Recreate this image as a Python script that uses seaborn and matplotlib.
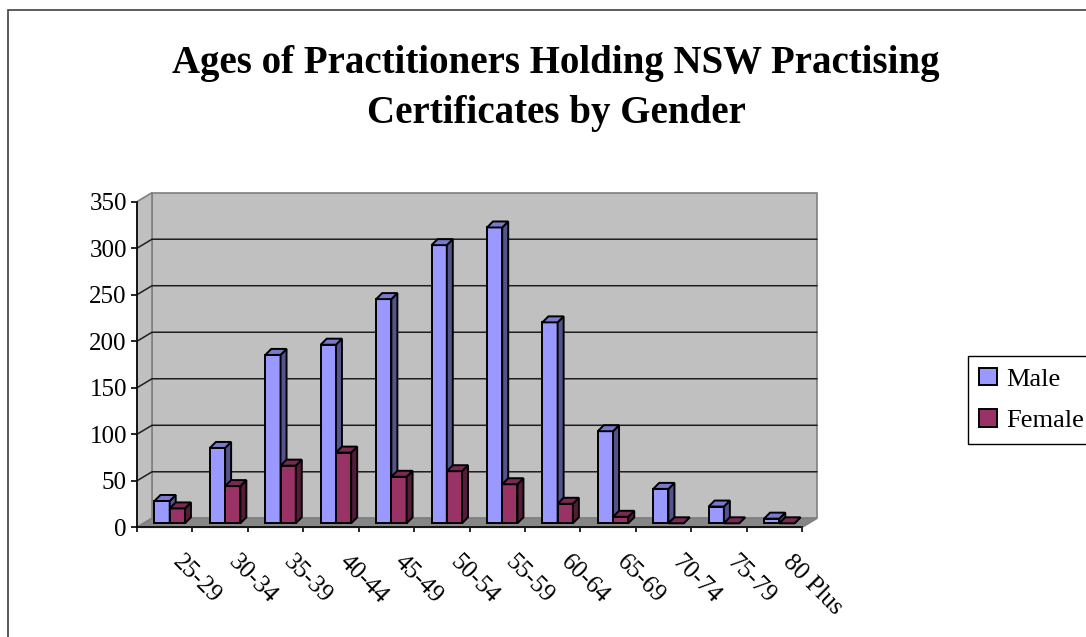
import numpy as np
import pandas as pd
import seaborn as sns
import matplotlib.pyplot as plt
import matplotlib.transforms as mtransforms
from matplotlib.patches import Polygon, Rectangle, Patch
from matplotlib.lines import Line2D

# data
age_groups = ["25-29", "30-34", "35-39", "40-44", "45-49", "50-54",
              "55-59", "60-64", "65-69", "70-74", "75-79", "80 Plus"]
male_counts = [24, 81, 181, 192, 241, 299, 318, 216, 99, 37, 18, 5]
female_counts = [16, 40, 62, 76, 50, 56, 42, 21, 7, 0, 0, 0]
genders = ["Male", "Female"]
y_ticks = [0, 50, 100, 150, 200, 250, 300, 350]
title = "Ages of Practitioners Holding NSW Practising\nCertificates by Gender"

MALE_COLOR = "#9999ff"
FEMALE_COLOR = "#993366"
WALL_COLOR = "#c0c0c0"
FLOOR_COLOR = "#868686"

# pixel offsets for the fake 3D look
WALL_DX, WALL_DY = 15, 9
BAR_DX, BAR_DY = 6, 6
BAR_SHIFT_X, BAR_SHIFT_Y = 5, 4

sns.set_style("white")
plt.rcParams["font.family"] = ["Liberation Serif", "DejaVu Serif"]
plt.rcParams["text.color"] = "black"
plt.rcParams["xtick.color"] = "black"
plt.rcParams["ytick.color"] = "black"

DPI = 100
W, H = 1086, 637
fig = plt.figure(figsize=(W / DPI, H / DPI), dpi=DPI)
ax = fig.add_axes([137 / W, 1 - 527.3 / H, (802 - 137) / W, (527.3 - 201.7) / H])
ax.patch.set_visible(False)

df = pd.DataFrame({
    "age": age_groups * 2,
    "gender": ["Male"] * len(male_counts) + ["Female"] * len(female_counts),
    "count": male_counts + female_counts,
})

sns.barplot(data=df, x="age", y="count", hue="gender", order=age_groups,
            hue_order=genders, palette=[MALE_COLOR, FEMALE_COLOR],
            width=0.55, saturation=1, errorbar=None, edgecolor="black",
            linewidth=1.4, legend=False, ax=ax)

ax.set_xlim(-0.5, len(age_groups) - 0.5)
ax.set_ylim(0, 350)
ax.set_xlabel("")
ax.set_ylabel("")

# axes styling
for side in ["top", "right"]:
    ax.spines[side].set_visible(False)
for side in ["left", "bottom"]:
    ax.spines[side].set_color("black")
    ax.spines[side].set_linewidth(1.2)
    ax.spines[side].set_zorder(2.5)

ax.set_yticks(y_ticks)
ax.tick_params(axis="y", left=True, length=4.3, width=1.2, pad=3,
               labelsize=18, direction="out")
ax.set_xticks(range(len(age_groups)))
ax.set_xticklabels(age_groups, rotation=-45, ha="left", va="top")
ax.tick_params(axis="x", which="major", length=0, pad=17, labelsize=18)
ax.set_xticks(np.arange(-0.5, len(age_groups), 1), minor=True)
ax.tick_params(axis="x", which="minor", bottom=True, length=3.4, width=1.2,
               direction="out")
label_shift = mtransforms.ScaledTranslation(4 / DPI, 0, fig.dpi_scale_trans)
for lab in ax.get_xticklabels():
    lab.set_transform(lab.get_transform() + label_shift)

ident = mtransforms.IdentityTransform()


def disp(pt, dx=0, dy=0):
    x, y = ax.transAxes.transform(pt)
    return (x + dx, y + dy)


# walls and floor
fl, fr, tl, tr = (0, 0), (1, 0), (0, 1), (1, 1)
back = Polygon([disp(fl, WALL_DX, WALL_DY), disp(fr, WALL_DX, WALL_DY),
                disp(tr, WALL_DX, WALL_DY), disp(tl, WALL_DX, WALL_DY)],
               closed=True, facecolor=WALL_COLOR, edgecolor="#808080",
               lw=1.2, transform=ident, zorder=0.5, clip_on=False)
left = Polygon([disp(fl), disp(tl), disp(tl, WALL_DX, WALL_DY),
                disp(fl, WALL_DX, WALL_DY)],
               closed=True, facecolor=WALL_COLOR, edgecolor="#808080",
               lw=1.2, transform=ident, zorder=0.6, clip_on=False)
floor = Polygon([disp(fl), disp(fr), disp(fr, WALL_DX, WALL_DY),
                 disp(fl, WALL_DX, WALL_DY)],
                closed=True, facecolor=FLOOR_COLOR, edgecolor="#808080",
                lw=1.2, transform=ident, zorder=0.7, clip_on=False)
for p in (back, left, floor):
    ax.add_artist(p)

# gridlines on back and left wall
for v in y_ticks[1:-1]:
    x0, y = ax.transData.transform((-0.5, v))
    x1, _ = ax.transData.transform((len(age_groups) - 0.5, v))
    ln = Line2D([x0, x0 + WALL_DX, x1 + WALL_DX], [y, y + WALL_DY, y + WALL_DY],
                color="#1e1e1e", lw=1.1, transform=ident, zorder=1.5,
                clip_on=False)
    ax.add_artist(ln)

# bars: shift front faces and add side/top faces
bar_shift = mtransforms.ScaledTranslation(BAR_SHIFT_X / DPI, BAR_SHIFT_Y / DPI,
                                          fig.dpi_scale_trans)
for i, (container, color) in enumerate(zip(ax.containers, [MALE_COLOR, FEMALE_COLOR])):
    rgb = np.array(plt.matplotlib.colors.to_rgb(color))
    side_c = rgb * 0.55
    top_c = rgb * 0.8
    z = 3 + i
    for bar in container:
        bar.set_transform(ax.transData + bar_shift)
        bar.set_zorder(z)
        bar.set_clip_on(False)
        x, w, h = bar.get_x(), bar.get_width(), bar.get_height()
        xl, yb = ax.transData.transform((x, 0))
        xr, yt = ax.transData.transform((x + w, h))
        xl += BAR_SHIFT_X
        xr += BAR_SHIFT_X
        yb += BAR_SHIFT_Y
        yt += BAR_SHIFT_Y
        side = Polygon([(xr, yb), (xr, yt), (xr + BAR_DX, yt + BAR_DY),
                        (xr + BAR_DX, yb + BAR_DY)], closed=True,
                       facecolor=side_c, edgecolor="black", lw=1.4,
                       transform=ident, zorder=z + 0.1, clip_on=False)
        top = Polygon([(xl, yt), (xr, yt), (xr + BAR_DX, yt + BAR_DY),
                       (xl + BAR_DX, yt + BAR_DY)], closed=True,
                      facecolor=top_c, edgecolor="black", lw=1.4,
                      transform=ident, zorder=z + 0.2, clip_on=False)
        ax.add_artist(side)
        ax.add_artist(top)

# legend
handles = [Patch(facecolor=MALE_COLOR, edgecolor="black", lw=1.4),
           Patch(facecolor=FEMALE_COLOR, edgecolor="black", lw=1.4)]
leg = fig.legend(handles, genders, loc="upper left",
                 bbox_to_anchor=(967.5 / W, 1 - 356 / H),
                 bbox_transform=fig.transFigure, fontsize=19, frameon=True,
                 fancybox=False, edgecolor="black", handlelength=0.65,
                 handleheight=0.65, handletextpad=0.38, labelspacing=0.69,
                 borderpad=0.45, borderaxespad=0)
leg.get_frame().set_linewidth(1)
leg.get_frame().set_alpha(None)

# title
fig.text(0.512, 0.929, title, ha="center", va="top", fontsize=28,
         fontweight="bold", linespacing=1.44)

# outer chart border (runs off right and bottom edge)
fig.add_artist(Rectangle((8.3 / W, -0.1), 1.2, 1 - 10.3 / H + 0.1,
                         transform=fig.transFigure, fill=False,
                         edgecolor="#404040", lw=1.2))

fig.savefig("out.png", dpi=DPI)
